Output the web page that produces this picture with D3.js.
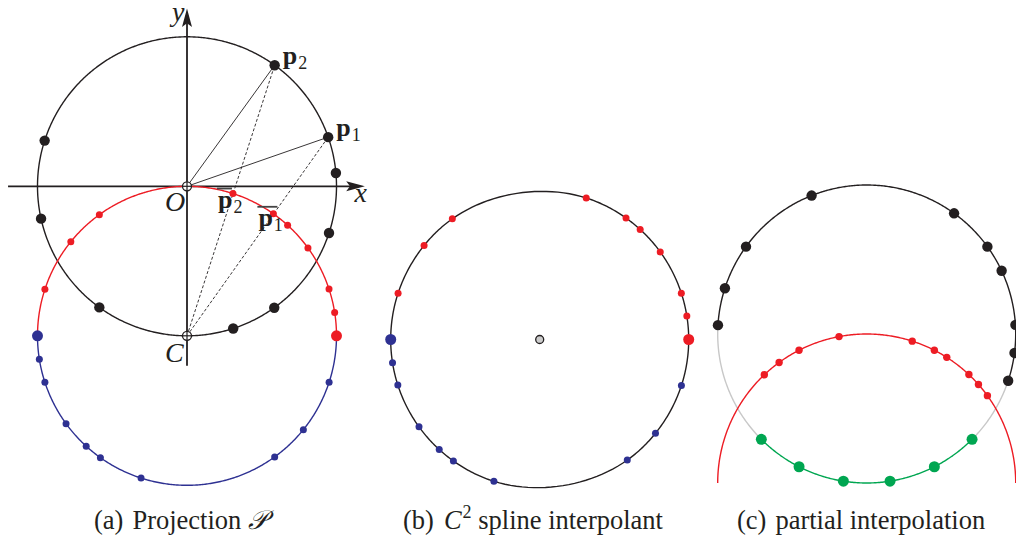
<!DOCTYPE html>
<html>
<head>
<meta charset="utf-8">
<script src="https://cdn.jsdelivr.net/npm/d3@7"></script>
<style>
  html, body { margin: 0; padding: 0; background: #fff; }
  svg { display: block; }
  text { font-family: "Liberation Serif", "DejaVu Serif", serif; fill: #231f20; }
</style>
</head>
<body>
<svg id="chart" width="1016" height="540"></svg>
<script>
// ---------------- data (angles in degrees) ----------------
// panel (a): points on the unit circle centred at O, projected onto the circle centred at C
const aBlackAngles = [5.1, 19.2, 54.1, 162.2, 192.5, 234.1, 288.0, 305.7, 341.8];
const aLabelAngles = [19.2, 54.1];               // p1, p2
const aLabelNames  = ["1", "2"];
const aRedAngles   = [9.0, 18.2, 36.0, 47.7, 54.7, 72.1, 125.9, 141.0, 161.9];
const aBlueAngles  = [189.0, 198.1, 216.0, 227.6, 234.6, 252.1, 305.9, 321.1, 341.9];
const aRedEnd = 0, aBlueEnd = 180;
const aBarAngles   = [72.1, 54.7];               // p̄2, p̄1 label anchors
const aBarNames    = ["2", "1"];

// panel (b): C2 spline interpolant
const bRedAngles  = [9.1, 18.1, 36.0, 47.6, 54.6, 71.8, 125.9, 140.9, 161.9];
const bBlueAngles = [189.0, 197.8, 215.9, 227.6, 234.6, 252.1, 306.0, 321.0, 342.0];
const bRedEnd = 0, bBlueEnd = 180;

// panel (c): partial interpolation
const cBlackAngles = [-18.3, -7.3, 3.5, 25.1, 35.9, 54.1, 111.7, 144.1, 162.1, 176.6];
const cGreenAngles = [225, 243, 261, 279, 297, 315];
const cRedAngles   = [35.9, 41.4, 46.7, 57.5, 63.0, 72.2, 100.7, 117.0, 126.0, 133.4];
const cBlackArc = [-18.3, 176.6];
const cGrayArcs = [[176.6, 225], [315, 341.7]];
const cGreenArc = [225, 315];
const cRedArc = [0, 180];

const captionTags  = ["(a)", "(b)", "(c)"];
const captionTexts = ["Projection ", " spline interpolant", "partial interpolation"];

// ---------------- drawing ----------------
const svg = d3.select("#chart");
const COL = { black: "#231f20", red: "#ed1c24", blue: "#2e3192", green: "#00a651", gray: "#c8c8c8" };
const rad = d => d * Math.PI / 180;

function makeScales(cx, cy, r) {
  return {
    x: d3.scaleLinear().domain([0, 1]).range([cx, cx + r]),
    y: d3.scaleLinear().domain([0, 1]).range([cy, cy - r])
  };
}
function unit(a, c = [0, 0]) { return [c[0] + Math.cos(rad(a)), c[1] + Math.sin(rad(a))]; }
function pt(s, a, c = [0, 0]) { const u = unit(a, c); return [s.x(u[0]), s.y(u[1])]; }
function arc(g, s, from, to, c, color, w = 1.4) {
  const n = Math.max(8, Math.ceil(Math.abs(to - from) * 2));
  const angs = d3.range(n + 1).map(i => from + (to - from) * i / n);
  g.append("path")
    .attr("d", d3.line()(angs.map(a => pt(s, a, c))))
    .attr("fill", "none").attr("stroke", color).attr("stroke-width", w);
}
function dots(g, s, angles, c, color, r) {
  g.selectAll(null).data(angles).enter().append("circle")
    .attr("cx", a => pt(s, a, c)[0]).attr("cy", a => pt(s, a, c)[1])
    .attr("r", r).attr("fill", color);
}
function oplus(g, x, y) {
  g.append("circle").attr("cx", x).attr("cy", y).attr("r", 4.5)
    .attr("fill", "#fff").attr("stroke", COL.black).attr("stroke-width", 1.3);
  g.append("line").attr("x1", x - 4.5).attr("x2", x + 4.5).attr("y1", y).attr("y2", y)
    .attr("stroke", COL.black).attr("stroke-width", 1.2);
  g.append("line").attr("x1", x).attr("x2", x).attr("y1", y - 4.5).attr("y2", y + 4.5)
    .attr("stroke", COL.black).attr("stroke-width", 1.2);
}

// periodic (closed) C2 cubic spline through points, chord-length parameterised
function closedSpline(P, perSeg) {
  const n = P.length;
  const h = P.map((p, i) => Math.hypot(P[(i + 1) % n][0] - p[0], P[(i + 1) % n][1] - p[1]));
  function solveDim(k) {
    const A = d3.range(n).map(() => new Array(n + 1).fill(0));
    for (let i = 0; i < n; i++) {
      const im = (i - 1 + n) % n, ip = (i + 1) % n;
      A[i][im] += h[im];
      A[i][i] += 2 * (h[im] + h[i]);
      A[i][ip] += h[i];
      A[i][n] = 6 * ((P[ip][k] - P[i][k]) / h[i] - (P[i][k] - P[im][k]) / h[im]);
    }
    for (let c = 0; c < n; c++) {
      let piv = c;
      for (let r = c + 1; r < n; r++) if (Math.abs(A[r][c]) > Math.abs(A[piv][c])) piv = r;
      [A[c], A[piv]] = [A[piv], A[c]];
      for (let r = 0; r < n; r++) {
        if (r === c) continue;
        const f = A[r][c] / A[c][c];
        for (let q = c; q <= n; q++) A[r][q] -= f * A[c][q];
      }
    }
    return A.map((row, i) => row[n] / row[i]);
  }
  const M = [solveDim(0), solveDim(1)];
  const out = [];
  for (let i = 0; i < n; i++) {
    const ip = (i + 1) % n, hi = h[i];
    for (let j = 0; j < perSeg; j++) {
      const t = hi * j / perSeg, u = hi - t;
      out.push([0, 1].map(k =>
        M[k][i] * u * u * u / (6 * hi) + M[k][ip] * t * t * t / (6 * hi) +
        (P[i][k] / hi - M[k][i] * hi / 6) * u + (P[ip][k] / hi - M[k][ip] * hi / 6) * t));
    }
  }
  out.push(out[0]);
  return out;
}

// ===== panel (a) =====
{
  const g = svg.append("g");
  const s = makeScales(187, 186.3, 149.5);
  const C = [0, -1];
  // axes
  g.append("line").attr("x1", s.x(-1.197)).attr("x2", s.x(1.1)).attr("y1", s.y(0)).attr("y2", s.y(0))
    .attr("stroke", COL.black).attr("stroke-width", 1.8);
  g.append("path").attr("d", d3.line()([[s.x(1.19), s.y(0)], [s.x(1.065), s.y(0) - 5], [s.x(1.09), s.y(0)], [s.x(1.065), s.y(0) + 5]]) + "Z")
    .attr("fill", COL.black);
  g.append("line").attr("x1", s.x(0)).attr("x2", s.x(0)).attr("y1", s.y(-1.2)).attr("y2", s.y(1.1))
    .attr("stroke", COL.black).attr("stroke-width", 1.8);
  g.append("path").attr("d", d3.line()([[s.x(0), s.y(1.19)], [s.x(0) - 5, s.y(1.065)], [s.x(0), s.y(1.09)], [s.x(0) + 5, s.y(1.065)]]) + "Z")
    .attr("fill", COL.black);

  // circles
  arc(g, s, 0, 360, [0, 0], COL.black);
  arc(g, s, 0, 180, C, COL.red);
  arc(g, s, 180, 360, C, COL.blue);

  // lines O->p and dashed C->p
  aLabelAngles.forEach(a => {
    const p = pt(s, a);
    g.append("line").attr("x1", s.x(0)).attr("y1", s.y(0)).attr("x2", p[0]).attr("y2", p[1])
      .attr("stroke", COL.black).attr("stroke-width", 0.9);
    g.append("line").attr("x1", s.x(C[0])).attr("y1", s.y(C[1])).attr("x2", p[0]).attr("y2", p[1])
      .attr("stroke", COL.black).attr("stroke-width", 0.9).attr("stroke-dasharray", "3,2");
  });

  dots(g, s, aBlackAngles, [0, 0], COL.black, 5.2);
  dots(g, s, aRedAngles, C, COL.red, 3.5);
  dots(g, s, aBlueAngles, C, COL.blue, 3.5);
  dots(g, s, [aRedEnd], C, COL.red, 5.5);
  dots(g, s, [aBlueEnd], C, COL.blue, 5.5);

  oplus(g, s.x(0), s.y(0));
  oplus(g, s.x(C[0]), s.y(C[1]));

  // labels
  const it = (x, y, t) => g.append("text").attr("x", x).attr("y", y).attr("font-style", "italic")
    .attr("font-size", 28).text(t);
  it(s.x(0) - 22, s.y(0) + 25, "O");
  it(s.x(0) - 22, s.y(-1) + 26, "C");
  it(s.x(1.12), s.y(0) + 16, "x");
  it(s.x(0) - 15, 21, "y");

  aLabelAngles.forEach((a, i) => {
    const p = pt(s, a);
    const t = g.append("text").attr("x", p[0] + 8).attr("y", p[1] - 1).attr("font-size", 26);
    t.append("tspan").attr("font-weight", "bold").text("p");
    t.append("tspan").attr("font-size", 18).attr("dx", 1).attr("dy", 5).text(aLabelNames[i]);
  });
  const barOff = [[-15, 14, 15], [-15, 12, 20]];
  aBarAngles.forEach((a, i) => {
    const p = pt(s, a, C);
    const x0 = p[0] + barOff[i][0], y0 = p[1] + barOff[i][1];
    const t = g.append("text").attr("x", x0).attr("y", y0).attr("font-size", 26);
    t.append("tspan").attr("font-weight", "bold").text("p");
    t.append("tspan").attr("font-size", 18).attr("dx", 1).attr("dy", 5).text(aBarNames[i]);
    g.append("line").attr("x1", x0 - 1).attr("x2", x0 - 1 + barOff[i][2]).attr("y1", y0 - 19).attr("y2", y0 - 19)
      .attr("stroke", "#444").attr("stroke-width", 1.8);
  });
}

// ===== panel (b) =====
{
  const g = svg.append("g");
  const s = makeScales(539.7, 339.5, 149);
  const all = [bRedEnd, ...bRedAngles, bBlueEnd, ...bBlueAngles].sort((a, b) => a - b);
  const curve = closedSpline(all.map(a => unit(a)), 24);
  g.append("path")
    .attr("d", d3.line().x(d => s.x(d[0])).y(d => s.y(d[1]))(curve))
    .attr("fill", "none").attr("stroke", COL.black).attr("stroke-width", 1.4);
  dots(g, s, bRedAngles, [0, 0], COL.red, 3.5);
  dots(g, s, bBlueAngles, [0, 0], COL.blue, 3.5);
  dots(g, s, [bRedEnd], [0, 0], COL.red, 5.5);
  dots(g, s, [bBlueEnd], [0, 0], COL.blue, 5.5);
  g.append("circle").attr("cx", s.x(0)).attr("cy", s.y(0)).attr("r", 4)
    .attr("fill", "#cccccc").attr("stroke", COL.black).attr("stroke-width", 1.3);
}

// ===== panel (c) =====
{
  const g = svg.append("g");
  const s = makeScales(866.7, 334, 149);
  const R = [0, -1];
  cGrayArcs.forEach(a => arc(g, s, a[0], a[1], [0, 0], COL.gray));
  arc(g, s, cBlackArc[0], cBlackArc[1], [0, 0], COL.black);
  arc(g, s, cRedArc[0], cRedArc[1], R, COL.red);
  arc(g, s, cGreenArc[0], cGreenArc[1], [0, 0], COL.green);
  dots(g, s, cBlackAngles, [0, 0], COL.black, 5.2);
  dots(g, s, cRedAngles, R, COL.red, 3.7);
  dots(g, s, cGreenAngles, [0, 0], COL.green, 5.5);
}

// ===== captions =====
{
  const g = svg.append("g").attr("font-size", 26.5);
  const t1 = g.append("text").attr("x", 94).attr("y", 529);
  t1.append("tspan").text(captionTags[0]);
  t1.append("tspan").attr("dx", 9).text(captionTexts[0]);
  t1.append("tspan").attr("font-family", "DejaVu Serif, serif").attr("font-style", "italic").text("\u{1D4AB}");
  const t2 = g.append("text").attr("x", 403).attr("y", 529);
  t2.append("tspan").text(captionTags[1]);
  t2.append("tspan").attr("dx", 10).attr("font-style", "italic").text("C");
  t2.append("tspan").attr("font-size", 18).attr("dy", -11).attr("dx", 1).text("2");
  t2.append("tspan").attr("dy", 11).text(captionTexts[1]);
  const t3 = g.append("text").attr("x", 737).attr("y", 529);
  t3.append("tspan").text(captionTags[2]);
  t3.append("tspan").attr("dx", 9).text(captionTexts[2]);
}
</script>
</body>
</html>
